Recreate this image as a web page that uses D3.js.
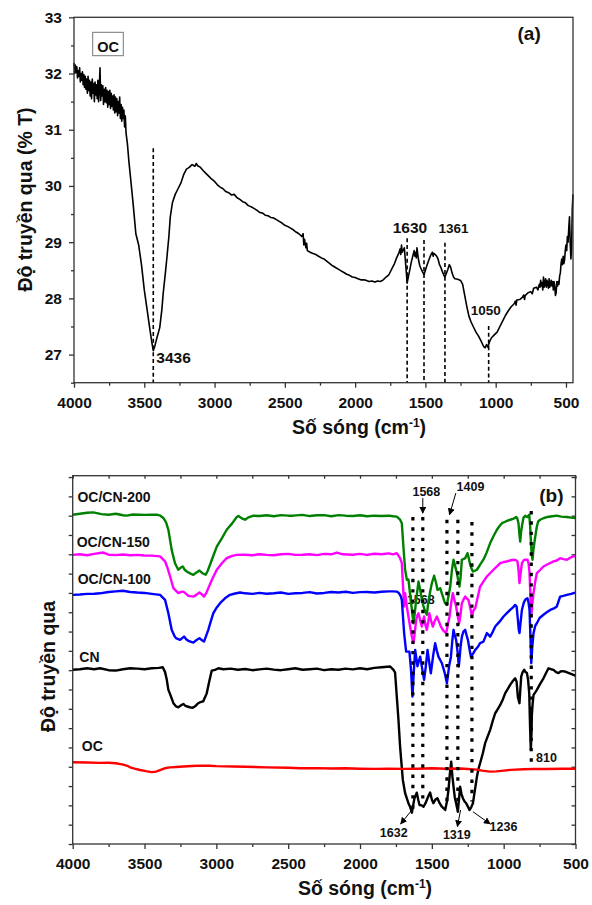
<!DOCTYPE html>
<html><head><meta charset="utf-8">
<script src="https://cdn.jsdelivr.net/npm/d3@7"></script>
<style>
body{margin:0;background:#fff}
svg{display:block}
text{font-family:"Liberation Sans",Arial,Helvetica,sans-serif;font-weight:bold;fill:#111}
</style>
</head><body>
<svg id="chart" width="592" height="905"></svg>
<script>
// ---------------- DATA ----------------
// Panel (a): OC spectrum, [wavenumber cm-1, %T]
const ocSpectrumA = [
[4000,32.19],[3995,32.0],[3990,32.15],[3985,32.02],[3980,32.12],[3975,31.92],[3970,32.05],[3965,31.95],[3960,32.1],[3955,31.85],
[3950,32.0],[3945,31.88],[3940,32.03],[3935,31.8],[3930,31.98],[3925,31.75],[3920,31.95],[3915,31.72],[3910,31.9],[3905,31.65],
[3900,31.95],[3895,31.7],[3890,31.88],[3885,31.6],[3880,31.85],[3875,31.55],[3870,31.9],[3865,31.65],[3860,31.82],[3855,31.5],
[3850,31.85],[3845,31.62],[3840,31.8],[3835,31.55],[3830,31.88],[3825,31.5],[3820,31.75],[3815,32.1],[3810,31.52],[3805,31.8],
[3800,31.6],[3795,31.78],[3790,31.45],[3785,31.72],[3780,31.5],[3775,31.75],[3770,31.48],[3765,31.7],[3760,31.4],[3755,31.68],
[3750,31.45],[3745,31.7],[3740,31.38],[3735,31.65],[3730,31.42],[3725,31.6],[3720,31.35],[3715,31.62],[3710,31.3],[3705,31.58],
[3700,31.32],[3695,31.55],[3690,31.25],[3685,31.5],[3680,31.3],[3675,31.58],[3670,31.2],[3665,31.45],[3660,31.15],[3655,31.4],
[3650,31.2],[3645,31.35],[3640,31.05],[3635,31.25],[3630,30.95],[3620,30.75],
[3610,30.45],[3600,30.2],[3580,29.7],[3560,29.15],[3540,28.95],[3520,28.6],[3500,28.15],[3480,27.8],[3460,27.45],[3445,27.2],
[3436,27.07],[3425,27.15],[3410,27.3],[3390,27.48],[3375,27.8],[3365,28.1],[3350,28.45],[3340,28.7],[3325,29.1],[3315,29.45],
[3300,29.7],[3280,29.85],[3260,29.95],[3240,30.05],[3220,30.2],[3200,30.3],[3180,30.33],[3160,30.38],[3140,30.35],[3130,30.4],
[3120,30.36],[3100,30.33],[3080,30.27],[3060,30.22],[3040,30.17],[3020,30.12],[3000,30.08],[2980,30.02],[2960,29.98],[2940,29.95],
[2920,29.9],[2900,29.88],[2880,29.84],[2860,29.85],[2840,29.79],[2820,29.76],[2800,29.72],[2780,29.7],[2760,29.65],[2740,29.63],
[2720,29.6],[2700,29.57],[2680,29.53],[2660,29.52],[2640,29.48],[2620,29.47],[2600,29.44],[2580,29.43],[2560,29.4],[2540,29.37],
[2520,29.34],[2500,29.3],[2480,29.28],[2460,29.25],[2440,29.22],[2420,29.18],[2400,29.15],[2380,29.1],[2370,29.15],[2365,28.95],
[2360,29.05],[2350,28.9],[2345,28.98],[2340,28.85],[2320,28.82],[2300,28.8],[2280,28.78],[2260,28.75],[2240,28.72],[2220,28.7],
[2200,28.66],[2180,28.62],[2160,28.58],[2140,28.55],[2120,28.52],[2100,28.49],[2080,28.46],[2060,28.43],[2040,28.41],[2020,28.38],
[2000,28.37],[1980,28.35],[1960,28.33],[1940,28.33],[1920,28.32],[1900,28.3],[1880,28.31],[1860,28.29],[1840,28.31],[1820,28.3],
[1800,28.33],[1780,28.38],[1760,28.42],[1740,28.52],[1720,28.62],[1705,28.72],[1690,28.8],[1680,28.88],[1675,28.78],[1670,28.95],
[1665,28.82],[1660,28.85],[1650,28.9],[1640,28.6],[1630,28.27],[1620,28.4],[1610,28.52],[1600,28.65],[1590,28.75],[1580,28.85],
[1575,28.75],[1570,28.82],[1565,28.72],[1560,28.9],[1550,28.7],[1540,28.58],[1530,28.52],[1520,28.47],[1510,28.42],[1500,28.5],
[1490,28.58],[1480,28.65],[1470,28.72],[1460,28.78],[1450,28.82],[1445,28.75],[1440,28.8],[1430,28.78],[1420,28.75],[1410,28.7],
[1400,28.6],[1390,28.55],[1380,28.48],[1370,28.42],[1361,28.38],[1350,28.45],[1340,28.52],[1330,28.6],[1320,28.55],[1310,28.45],
[1300,28.38],[1290,28.35],[1270,28.34],[1250,28.32],[1235,28.25],
[1220,28.05],[1205,27.85],[1190,27.68],[1175,27.58],[1160,27.5],[1140,27.4],[1120,27.32],[1100,27.22],[1085,27.14],[1075,27.12],
[1065,27.18],[1055,27.13],[1045,27.22],[1030,27.3],[1010,27.35],[990,27.4],[970,27.5],[950,27.6],[930,27.7],[910,27.78],
[890,27.85],[870,27.9],[860,27.95],[855,27.88],[850,27.97],[830,27.98],[810,28.02],[800,28.06],[795,27.98],[790,28.05],
[770,28.1],[750,28.12],[740,28.08],[730,28.18],[710,28.2],[700,28.15],
[690,28.25],[685,28.2],[680,28.32],[675,28.22],[670,28.28],[665,28.15],[660,28.38],[655,28.2],[650,28.25],[645,28.35],
[640,28.2],[635,28.32],[630,28.28],[625,28.18],[620,28.35],[615,28.2],[610,28.25],[605,28.32],[600,28.22],[595,28.3],
[590,28.15],[585,28.3],[580,28.22],[575,28.05],[570,28.1],[565,28.3],[560,28.22],[555,28.3],[550,28.25],[545,28.4],
[540,28.45],[535,28.62],[530,28.7],[525,28.6],[520,28.75],[515,28.62],[510,28.68],[505,28.85],[500,28.95],
[495,28.85],[490,29.1],[485,29.0],[480,29.25],[475,29.45],[470,29.0],[465,28.7],[460,28.9],[455,29.6],[450,29.85]
];
const peaksA = [3436,1630,1510,1361,1050];
const peakTopsA = [30.67,29.07,29.04,28.99,27.51];

const xTicksA = [4000,3500,3000,2500,2000,1500,1000,500];
const xMinorA = [3750,3250,2750,2250,1750,1250,750];
const yTicksA = [27,28,29,30,31,32,33];
const yMinorA = [26.5,27.5,28.5,29.5,30.5,31.5,32.5];

// Panel (b): stacked spectra (arbitrary offset units), [wavenumber, value]
const seriesNames = ["OC/CN-200","OC/CN-150","OC/CN-100","CN","OC"];
const seriesColors = ["#008000","#ff00ff","#0000ff","#000000","#ff0000"];

const cn200 = [
[4000,17.05],[3950,17.1],[3900,17.15],[3857,17.17],[3800,17.08],[3750,17.05],[3700,17.1],[3650,17.02],[3624,17.0],[3580,17.06],
[3500,17.04],[3450,17.05],[3415,17.05],[3390,17.0],[3369,16.88],[3350,16.65],[3334,16.27],[3311,15.23],[3288,14.54],[3265,14.2],
[3250,14.3],[3234,14.37],[3220,14.2],[3206,14.11],[3180,14.0],[3160,13.94],[3140,14.05],[3118,14.16],[3097,14.02],[3074,13.94],
[3060,14.15],[3044,14.46],[3020,14.95],[2997,15.4],[2960,15.85],[2928,16.27],[2890,16.6],[2858,16.93],[2847,16.98],[2820,16.85],
[2800,16.79],[2780,16.9],[2742,17.0],[2700,16.98],[2650,17.02],[2600,16.97],[2550,17.03],[2500,17.0],[2464,17.0],[2400,17.04],
[2350,16.98],[2300,17.02],[2250,17.03],[2200,16.97],[2150,17.03],[2100,17.0],[2050,16.98],[2000,17.02],[1950,16.97],[1900,17.0],
[1850,16.98],[1800,17.0],[1770,16.97],[1744,16.95],[1721,16.79],[1709,16.61],[1698,15.4],[1693,14.89],[1686,14.2],[1674,13.68],
[1663,13.7],[1651,12.9],[1640,12.2],[1628,11.43],[1618,12.0],[1609,12.64],[1593,13.59],[1585,13.3],[1577,12.99],[1568,12.6],
[1558,12.3],[1545,12.0],[1535,11.87],[1525,12.5],[1512,13.06],[1500,13.5],[1484,13.89],[1470,13.5],[1461,13.16],[1450,13.2],
[1442,13.25],[1423,12.81],[1410,12.5],[1395,12.38],[1385,12.8],[1372,13.33],[1360,14.2],[1349,14.72],[1338,14.4],[1326,14.03],
[1315,13.6],[1308,13.33],[1300,13.8],[1291,14.72],[1280,14.75],[1268,14.8],[1252,15.06],[1243,14.8],[1233,14.46],[1220,14.2],
[1214,14.11],[1200,14.15],[1186,14.2],[1165,14.45],[1141,14.72],[1118,15.1],[1094,15.58],[1070,15.95],[1047,16.27],[1030,16.45],
[1012,16.61],[985,16.7],[955,16.79],[930,16.85],[913,16.93],[905,16.85],[897,16.61],[890,16.0],[885,15.66],[878,16.2],
[873,16.45],[862,16.9],[850,17.0],[842,16.95],[834,16.93],[828,17.0],[822,17.05],[816,16.5],[811,15.75],[805,15.0],
[799,14.72],[792,15.3],[780,15.92],[770,16.4],[760,16.7],[746,16.79],[720,16.88],[699,16.93],[660,16.97],[630,17.0],
[600,16.95],[560,16.93],[530,16.9],[502,16.88]
];
const cn150 = [
[4000,14.97],[3950,15.0],[3900,14.95],[3850,15.02],[3800,15.08],[3787,15.09],[3750,14.98],[3700,14.96],[3650,14.99],[3600,14.95],
[3550,14.97],[3500,14.94],[3450,14.93],[3392,14.89],[3357,14.63],[3340,14.3],[3322,13.85],[3299,13.25],[3265,12.99],[3245,13.05],
[3230,13.07],[3210,12.95],[3195,12.85],[3160,12.81],[3140,12.9],[3118,13.02],[3100,12.92],[3086,12.81],[3070,13.0],[3056,13.25],
[3030,13.7],[2997,14.2],[2960,14.55],[2928,14.8],[2890,14.92],[2858,14.97],[2800,14.98],[2750,14.95],[2700,15.0],[2650,14.97],
[2600,14.95],[2550,15.0],[2500,15.02],[2450,14.97],[2400,14.98],[2350,15.0],[2300,14.96],[2250,15.02],[2200,15.0],[2161,15.09],
[2120,15.0],[2050,14.98],[2000,15.02],[1950,14.97],[1900,15.03],[1850,15.0],[1800,15.05],[1770,15.0],[1744,15.06],[1721,14.8],
[1709,14.54],[1693,12.3],[1686,12.99],[1674,12.3],[1663,11.78],[1650,11.2],[1639,10.74],[1628,10.4],[1618,11.0],[1609,11.61],
[1600,11.85],[1593,11.95],[1580,11.55],[1570,11.26],[1560,11.6],[1554,11.78],[1545,11.35],[1535,11.09],[1525,11.5],[1517,11.95],
[1505,11.55],[1493,11.26],[1480,11.55],[1465,11.78],[1450,11.5],[1437,11.26],[1420,11.05],[1400,10.92],[1390,11.3],[1377,11.78],
[1365,12.5],[1354,12.99],[1342,12.6],[1331,12.3],[1320,11.8],[1310,11.43],[1300,11.9],[1291,12.47],[1280,12.65],[1268,12.81],
[1255,12.7],[1245,12.64],[1232,12.2],[1221,11.78],[1210,12.1],[1198,12.21],[1180,12.8],[1164,13.33],[1140,13.6],[1117,13.85],
[1095,14.02],[1071,14.2],[1050,14.35],[1024,14.54],[1000,14.6],[978,14.63],[955,14.68],[932,14.72],[915,14.7],[904,14.63],
[897,14.2],[890,13.51],[882,14.0],[873,14.54],[860,14.7],[850,14.72],[842,14.72],[834,14.72],[826,14.5],[820,14.03],
[814,12.9],[808,11.78],[800,12.5],[792,12.99],[780,13.6],[769,14.03],[745,14.2],[723,14.37],[690,14.5],[653,14.63],
[630,14.68],[607,14.8],[585,14.75],[560,14.72],[530,14.85],[502,14.92]
];
const cn100 = [
[4000,12.9],[3950,12.92],[3900,12.95],[3850,12.96],[3810,12.98],[3750,13.05],[3700,13.08],[3650,13.11],[3600,13.05],[3550,13.02],
[3500,13.0],[3450,12.95],[3392,12.9],[3357,12.64],[3334,11.95],[3311,11.09],[3290,10.75],[3281,10.66],[3253,10.57],[3240,10.65],
[3225,10.74],[3210,10.6],[3195,10.52],[3160,10.43],[3140,10.55],[3118,10.66],[3100,10.55],[3086,10.48],[3070,10.8],[3056,11.09],
[3040,11.5],[3021,11.95],[2997,12.25],[2974,12.47],[2940,12.72],[2905,12.9],[2870,12.97],[2835,13.02],[2800,12.98],[2750,12.95],
[2700,13.0],[2650,12.96],[2600,12.98],[2550,13.02],[2500,12.95],[2450,12.98],[2400,13.0],[2350,13.04],[2300,12.97],[2250,13.0],
[2200,13.05],[2150,13.02],[2100,13.06],[2050,13.0],[2000,13.04],[1950,13.05],[1900,13.02],[1850,13.06],[1800,13.08],[1770,13.08],
[1744,13.07],[1730,13.0],[1716,12.82],[1709,12.64],[1693,10.92],[1679,9.96],[1670,9.96],[1656,9.96],[1645,9.0],[1635,7.63],
[1625,9.0],[1616,10.05],[1600,9.2],[1590,9.5],[1581,9.7],[1570,9.2],[1554,8.5],[1542,9.2],[1530,10.05],[1520,9.5],
[1507,8.84],[1490,9.8],[1477,10.4],[1465,10.0],[1454,9.7],[1440,9.5],[1430,9.36],[1412,8.9],[1395,8.33],[1380,9.2],
[1367,9.7],[1358,10.5],[1349,11.09],[1340,10.8],[1331,10.57],[1320,9.9],[1312,9.19],[1300,10.2],[1291,10.74],[1280,11.0],
[1268,11.09],[1258,10.8],[1249,10.57],[1238,10.1],[1228,9.7],[1214,9.85],[1198,10.05],[1180,10.2],[1164,10.4],[1141,10.48],
[1117,10.92],[1094,10.74],[1075,11.0],[1059,11.26],[1030,11.5],[1001,11.78],[978,11.95],[955,12.12],[935,12.25],[920,12.38],
[910,12.3],[901,11.61],[895,11.1],[890,10.92],[882,11.5],[873,12.12],[860,12.5],[850,12.64],[842,12.7],[834,12.72],
[827,12.5],[820,12.12],[814,10.8],[808,9.36],[800,10.3],[792,10.92],[780,11.3],[769,11.43],[750,11.7],[723,11.87],
[700,12.0],[676,12.12],[650,12.2],[630,12.3],[607,12.81],[585,12.85],[560,12.9],[530,12.95],[502,13.02]
];
const cnPure = [
[4000,9.02],[3950,9.05],[3900,9.1],[3850,9.05],[3810,9.1],[3750,9.0],[3700,8.98],[3650,9.05],[3600,9.1],[3550,9.08],
[3500,9.05],[3450,9.1],[3400,9.12],[3373,9.15],[3357,8.9],[3345,8.5],[3334,7.98],[3322,7.76],[3299,7.29],[3280,7.12],
[3265,7.08],[3245,7.18],[3230,7.25],[3215,7.15],[3202,7.12],[3185,7.08],[3165,7.05],[3145,7.15],[3126,7.29],[3110,7.35],
[3091,7.39],[3067,7.8],[3050,8.4],[3032,8.98],[3009,9.02],[2986,9.1],[2950,9.05],[2900,9.08],[2850,9.02],[2800,9.06],
[2750,9.0],[2700,9.04],[2650,9.08],[2600,9.03],[2550,9.0],[2500,9.05],[2450,9.1],[2400,9.02],[2350,9.05],[2300,9.08],
[2250,9.0],[2200,9.05],[2150,9.02],[2100,9.08],[2050,9.04],[2000,9.1],[1950,9.05],[1900,9.12],[1850,9.15],[1810,9.18],
[1790,9.19],[1767,9.02],[1756,8.88],[1744,7.63],[1733,6.5],[1721,5.04],[1702,3.32],[1686,2.63],[1663,2.11],[1650,1.9],
[1639,1.62],[1630,2.0],[1621,2.37],[1605,2.66],[1595,2.3],[1586,2.02],[1570,2.0],[1558,1.93],[1545,2.1],[1535,2.28],
[1523,2.5],[1512,2.66],[1500,2.3],[1489,2.11],[1475,2.3],[1461,2.37],[1445,2.1],[1430,1.93],[1418,1.85],[1407,1.76],
[1395,2.2],[1384,2.8],[1375,3.6],[1365,4.26],[1357,3.5],[1349,2.97],[1340,2.4],[1331,2.11],[1319,1.67],[1310,2.4],
[1303,2.97],[1294,2.6],[1284,2.37],[1272,2.2],[1261,2.11],[1250,1.95],[1238,1.76],[1226,1.9],[1214,2.11],[1200,2.8],
[1186,3.49],[1175,3.9],[1164,4.18],[1145,4.7],[1129,5.22],[1110,5.6],[1094,5.91],[1075,6.4],[1059,6.77],[1040,7.0],
[1024,7.2],[1005,7.5],[989,7.81],[970,8.05],[955,8.24],[935,8.45],[920,8.58],[910,8.4],[901,7.6],[890,7.29],
[884,8.0],[878,8.67],[868,8.9],[857,9.02],[848,8.9],[838,8.85],[830,8.5],[822,7.8],[816,6.0],[811,4.87],
[806,5.8],[804,6.64],[798,7.3],[792,7.72],[780,7.85],[769,7.98],[745,8.3],[723,8.58],[705,8.85],[688,9.1],
[670,9.05],[653,9.02],[635,8.9],[618,8.85],[600,8.95],[572,8.93],[545,8.85],[514,8.76],[500,8.7]
];
const ocSpectrumB = [
[4000,4.23],[3900,4.22],[3810,4.2],[3750,4.21],[3700,4.18],[3648,4.11],[3620,4.05],[3601,3.97],[3570,3.9],[3531,3.83],
[3490,3.77],[3450,3.72],[3420,3.75],[3392,3.83],[3360,3.92],[3322,3.97],[3280,3.99],[3230,4.01],[3170,4.04],[3114,4.06],
[3050,4.05],[3000,4.03],[2882,4.01],[2800,4.0],[2649,3.97],[2500,3.95],[2417,3.92],[2300,3.93],[2200,3.91],[2100,3.92],
[2000,3.9],[1900,3.89],[1800,3.9],[1700,3.89],[1600,3.9],[1500,3.92],[1400,3.9],[1300,3.91],[1250,3.88],[1186,3.85],
[1150,3.8],[1094,3.75],[1050,3.76],[1000,3.8],[950,3.84],[862,3.87],[800,3.88],[700,3.88],[600,3.9],[502,3.9]
];
const seriesB = [cn200, cn150, cn100, cnPure, ocSpectrumB];
const seriesLabelPos = [[3967,17.69],[3972,15.39],[3965,13.47],[3954,9.43],[3937,4.79]];

// Dotted guide lines in (b): wavenumber, top value, bottom value
const guidesB = [1632,1563,1395,1319,1221,808];
const guideTopsB = [16.93,16.93,16.79,16.79,16.67,17.24];
const guideBottomsB = [1.67,2.1,2.2,1.9,2.2,4.2];

// Peak labels in (b): text, wavenumber (centre), value (baseline)
const peakTextB = ["1568","1409","1632","1319","1236","810"];
const peakWnB = [1538,1231,1765,1326,1001,702];
const peakValB = [18.0,18.26,0.36,0.26,0.65,4.25];
// Arrows in (b): from [wn,val] to [wn,val]
const arrowFromB = [[1563,17.91],[1333,18.17],[1639,1.76],[1300,1.76],[1214,1.67]];
const arrowToB = [[1563,17.13],[1377,17.05],[1717,1.04],[1322,0.9],[1094,1.04]];

const xTicksB = [4000,3500,3000,2500,2000,1500,1000,500];
const xMinorB = [3750,3250,2750,2250,1750,1250,750];
const yTicksB = d3.range(0,20,1);

// ---------------- DRAW ----------------
const FONT = '"Liberation Sans",Arial,Helvetica,sans-serif';
const svg = d3.select("#chart");
const AX = "#333";

function styleAxis(g, fs){
  g.select(".domain").remove();
  g.selectAll(".tick line").attr("stroke",AX).attr("stroke-width",1.3);
  g.selectAll(".tick text").attr("font-size",fs).attr("font-weight","bold").attr("fill","#111").attr("font-family",FONT);
}

// ===== Panel (a) =====
const xa = d3.scaleLinear().domain([4000,450]).range([74,573]);
const ya = d3.scaleLinear().domain([26.5,33]).range([382.7,17.3]);
const ga = svg.append("g");

ga.append("g").attr("transform","translate(0,382.7)")
  .call(d3.axisBottom(xa).tickValues(xMinorA).tickSize(3).tickFormat(""))
  .call(g=>styleAxis(g,"15.5px"));
ga.append("g").attr("transform","translate(0,382.7)")
  .call(d3.axisBottom(xa).tickValues(xTicksA).tickSize(5).tickPadding(9).tickFormat(d3.format("d")))
  .call(g=>styleAxis(g,"15.5px"));
ga.append("g").attr("transform","translate(74,0)")
  .call(d3.axisLeft(ya).tickValues(yMinorA).tickSize(3).tickFormat(""))
  .call(g=>styleAxis(g,"15.5px"));
ga.append("g").attr("transform","translate(74,0)")
  .call(d3.axisLeft(ya).tickValues(yTicksA).tickSize(5).tickPadding(7).tickFormat(d3.format("d")))
  .call(g=>styleAxis(g,"15.5px"));

// dashed peak lines
ga.selectAll("line.peakA").data(peaksA).join("line")
  .attr("x1",d=>xa(d)).attr("x2",d=>xa(d))
  .attr("y1",(d,i)=>ya(peakTopsA[i])).attr("y2",ya(26.5))
  .attr("stroke","#000").attr("stroke-width",1.6).attr("stroke-dasharray","4,2.8");

// curve
ga.append("path").datum(ocSpectrumA)
  .attr("d", d3.line().x(d=>xa(d[0])).y(d=>ya(d[1])))
  .attr("fill","none").attr("stroke","#000").attr("stroke-width",1.6).attr("stroke-linejoin","round");

// frame
ga.append("rect").attr("x",74).attr("y",17.3).attr("width",499).attr("height",365.4)
  .attr("fill","none").attr("stroke",AX).attr("stroke-width",1.3);

// peak labels (a)
const labA = [
  {t:"3436", wn:3436, v:26.85, anchor:"start", dx:3, fs:15.5},
  {t:"1630", wn:1610, v:29.17, anchor:"middle", dx:0, fs:15.5},
  {t:"1361", wn:1300, v:29.17, anchor:"middle", dx:0, fs:13.5},
  {t:"1050", wn:1070, v:27.7, anchor:"middle", dx:0, fs:13.5}
];
ga.selectAll("text.labA").data(labA).join("text")
  .attr("x",d=>xa(d.wn)+d.dx).attr("y",d=>ya(d.v))
  .attr("text-anchor",d=>d.anchor).attr("font-size",d=>d.fs+"px").text(d=>d.t);

// OC box
ga.append("rect").attr("x",92.7).attr("y",32.3).attr("width",30.6).attr("height",23.4)
  .attr("fill","#fff").attr("stroke","#777").attr("stroke-width",1);
ga.append("text").attr("x",108).attr("y",52).attr("text-anchor","middle").attr("font-size","14.5px").text("OC");
ga.append("text").attr("x",517.5).attr("y",40).attr("font-size","19px").text("(a)");

// axis titles (a)
const xtA = ga.append("text").attr("x",359).attr("y",433.5).attr("text-anchor","middle").attr("font-size","19.5px");
xtA.append("tspan").text("Số sóng (cm");
xtA.append("tspan").attr("font-size","12px").attr("dy","-7").text("-1");
xtA.append("tspan").attr("dy","7").text(")");
ga.append("text").attr("transform","translate(31.5,199.5) rotate(-90)").attr("text-anchor","middle")
  .attr("font-size","19.5px").text("Độ truyền qua (% T)");

// ===== Panel (b) =====
const xb = d3.scaleLinear().domain([4000,500]).range([72.7,575.5]);
const yb = d3.scaleLinear().domain([0,19.07]).range([844,475.7]);
const gb = svg.append("g");

gb.append("g").attr("transform","translate(0,844)")
  .call(d3.axisBottom(xb).tickValues(xMinorB).tickSize(3).tickFormat(""))
  .call(g=>styleAxis(g,"15.5px"));
gb.append("g").attr("transform","translate(0,844)")
  .call(d3.axisBottom(xb).tickValues(xTicksB).tickSize(5).tickPadding(9).tickFormat(d3.format("d")))
  .call(g=>styleAxis(g,"15.5px"));
gb.append("g").attr("transform","translate(0,475.7)")
  .call(d3.axisTop(xb).tickValues(xMinorB.concat(xTicksB)).tickSizeInner(-3).tickSizeOuter(0).tickFormat(""))
  .call(g=>styleAxis(g,"15.5px"));
gb.append("g").attr("transform","translate(72.7,0)")
  .call(d3.axisLeft(yb).tickValues(yTicksB).tickSize(4).tickFormat(""))
  .call(g=>styleAxis(g,"15.5px"));
gb.append("g").attr("transform","translate(575.5,0)")
  .call(d3.axisRight(yb).tickValues(yTicksB).tickSizeInner(-4).tickSizeOuter(0).tickFormat(""))
  .call(g=>styleAxis(g,"15.5px"));

// occluded label (drawn beneath curves)
gb.append("text").attr("x",xb(1577)).attr("y",yb(12.44)).attr("text-anchor","middle")
  .attr("font-size","12.5px").text("1568");

const lineB = d3.line().x(d=>xb(d[0])).y(d=>yb(d[1]));
gb.selectAll("path.sb").data(seriesB).join("path")
  .attr("d",lineB).attr("fill","none")
  .attr("stroke",(d,i)=>seriesColors[i]).attr("stroke-width",2.4).attr("stroke-linejoin","round");

// dotted guides
gb.selectAll("line.gd").data(guidesB).join("line")
  .attr("x1",d=>xb(d)).attr("x2",d=>xb(d))
  .attr("y1",(d,i)=>yb(guideTopsB[i])).attr("y2",(d,i)=>yb(guideBottomsB[i]))
  .attr("stroke","#000").attr("stroke-width",3.2).attr("stroke-dasharray","3.4,6.9");

// series labels
gb.selectAll("text.sl").data(seriesNames).join("text")
  .attr("x",(d,i)=>xb(seriesLabelPos[i][0])).attr("y",(d,i)=>yb(seriesLabelPos[i][1]))
  .attr("font-size","14px").text(d=>d);

// arrow marker
svg.append("defs").append("marker").attr("id","ah")
  .attr("viewBox","0 0 10 10").attr("refX",9).attr("refY",5)
  .attr("markerWidth",7).attr("markerHeight",7).attr("markerUnits","userSpaceOnUse")
  .attr("orient","auto")
  .append("path").attr("d","M0,0 L10,5 L0,10 z").attr("fill","#000");

gb.selectAll("line.ar").data(arrowFromB).join("line")
  .attr("x1",d=>xb(d[0])).attr("y1",d=>yb(d[1]))
  .attr("x2",(d,i)=>xb(arrowToB[i][0])).attr("y2",(d,i)=>yb(arrowToB[i][1]))
  .attr("stroke","#000").attr("stroke-width",1).attr("marker-end","url(#ah)");

gb.selectAll("text.pk").data(peakTextB).join("text")
  .attr("x",(d,i)=>xb(peakWnB[i])).attr("y",(d,i)=>yb(peakValB[i]))
  .attr("text-anchor","middle").attr("font-size","12.5px").text(d=>d);

// frame
gb.append("rect").attr("x",72.7).attr("y",475.7).attr("width",502.8).attr("height",368.3)
  .attr("fill","none").attr("stroke",AX).attr("stroke-width",1.3);

gb.append("text").attr("x",539.3).attr("y",501.5).attr("font-size","19px").text("(b)");

const xtB = gb.append("text").attr("x",365).attr("y",895).attr("text-anchor","middle").attr("font-size","19.5px");
xtB.append("tspan").text("Số sóng (cm");
xtB.append("tspan").attr("font-size","12px").attr("dy","-7").text("-1");
xtB.append("tspan").attr("dy","7").text(")");
gb.append("text").attr("transform","translate(55,666.5) rotate(-90)").attr("text-anchor","middle")
  .attr("font-size","19.5px").text("Độ truyền qua");
</script>
</body></html>
